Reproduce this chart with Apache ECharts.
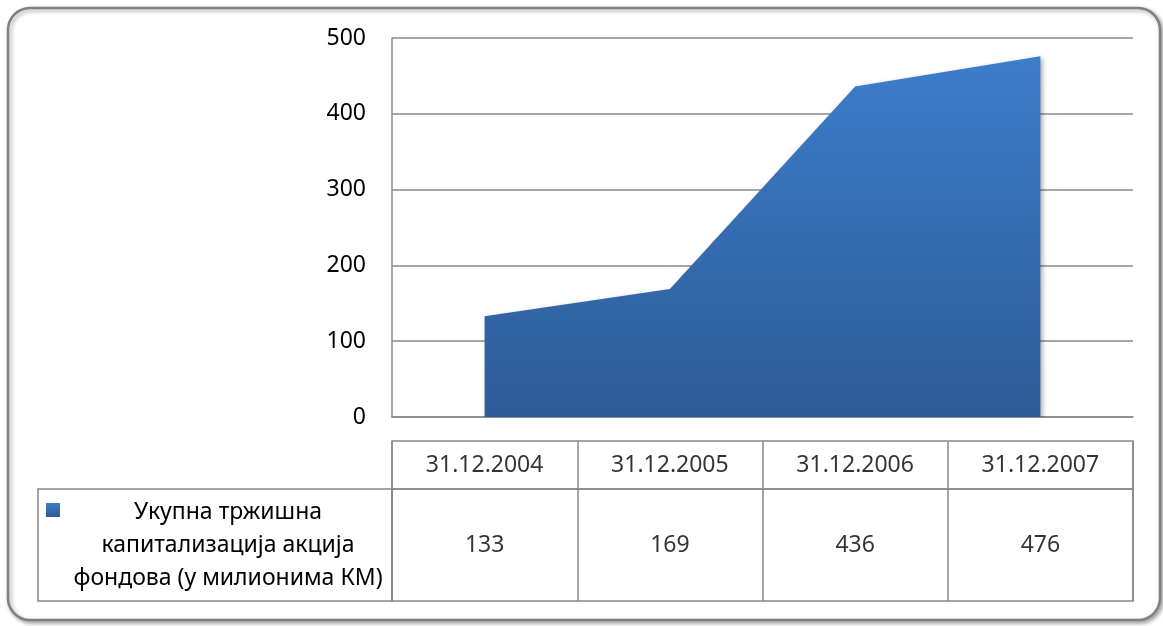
<!DOCTYPE html>
<html>
<head>
<meta charset="utf-8">
<script src="https://cdn.jsdelivr.net/npm/echarts@6/dist/echarts.min.js"></script>
<style>
  html, body { margin: 0; padding: 0; background: #fff; }
  #chart { width: 1163px; height: 626px; }
</style>
</head>
<body>
<div id="chart"></div>
<script>
// podaci
const categories = ['31.12.2004', '31.12.2005', '31.12.2006', '31.12.2007'];
const values = [133, 169, 436, 476];
const seriesName = 'Укупна тржишна\nкапитализација акција\nфондова (у милионима КМ)';
const yTicks = [0, 100, 200, 300, 400, 500];

const font = "'Noto Sans', 'Open Sans', sans-serif";
const gray = '#888888';
const fs = 23;

const chart = echarts.init(document.getElementById('chart'), null, { renderer: 'canvas' });

const areaColor = new echarts.graphic.LinearGradient(0, 0, 0, 1, [
  { offset: 0, color: '#3c7dcb' },
  { offset: 1, color: '#2d5b97' }
]);

const option = {
  animation: false,
  backgroundColor: '#fff',
  grid: [
    // glavni grafikon
    { left: 392, width: 741, top: 38, height: 379 },
    // red zaglavlja tabele
    { left: 392, width: 741, top: 441, height: 48, show: true, borderColor: gray, borderWidth: 1.5 },
    // red s vrijednostima
    { left: 392, width: 741, top: 489, height: 112, show: true, borderColor: gray, borderWidth: 1.5 }
  ],
  xAxis: [
    {
      gridIndex: 0, type: 'category', data: categories, boundaryGap: true,
      axisLine: { show: true, lineStyle: { color: gray, width: 1.5 } },
      axisTick: { show: false }, axisLabel: { show: false }
    },
    {
      gridIndex: 1, type: 'category', data: categories, boundaryGap: true,
      axisLine: { show: false }, axisTick: { show: false }, axisLabel: { show: false },
      splitLine: { show: true, lineStyle: { color: gray, width: 1.5 } }
    },
    {
      gridIndex: 2, type: 'category', data: categories, boundaryGap: true,
      axisLine: { show: false }, axisTick: { show: false }, axisLabel: { show: false },
      splitLine: { show: true, lineStyle: { color: gray, width: 1.5 } }
    }
  ],
  yAxis: [
    {
      gridIndex: 0, type: 'value', min: yTicks[0], max: yTicks[yTicks.length - 1], interval: 100,
      axisLine: { show: true, lineStyle: { color: gray, width: 1.5 } },
      axisTick: { show: false },
      axisLabel: { color: '#000', fontSize: fs, fontFamily: font, margin: 26 },
      splitLine: { show: true, lineStyle: { color: gray, width: 1.5 } }
    },
    { gridIndex: 1, type: 'value', min: 0, max: 1, show: false },
    { gridIndex: 2, type: 'value', min: 0, max: 1, show: false }
  ],
  series: [
    {
      name: seriesName,
      type: 'line',
      xAxisIndex: 0, yAxisIndex: 0,
      data: values,
      symbol: 'none',
      lineStyle: { width: 0 },
      areaStyle: {
        color: areaColor, opacity: 1,
        shadowColor: 'rgba(0,0,0,0.35)', shadowBlur: 5, shadowOffsetX: 2, shadowOffsetY: 2
      }
    },
    {
      type: 'scatter', xAxisIndex: 1, yAxisIndex: 1, silent: true,
      data: categories.map(c => [c, 0.5]),
      symbolSize: 1, itemStyle: { color: 'rgba(0,0,0,0)' },
      label: {
        show: true, position: 'inside', color: '#000', fontSize: fs, fontFamily: font,
        formatter: p => p.value[0]
      }
    },
    {
      type: 'scatter', xAxisIndex: 2, yAxisIndex: 2, silent: true,
      data: categories.map((c, i) => [c, 0.5, values[i]]),
      symbolSize: 1, itemStyle: { color: 'rgba(0,0,0,0)' },
      label: {
        show: true, position: 'inside', color: '#000', fontSize: fs, fontFamily: font,
        formatter: p => String(p.value[2])
      }
    }
  ],
  graphic: [
    // okvir
    {
      type: 'rect', z: -10,
      shape: { x: 8, y: 8, width: 1152, height: 612, r: 22 },
      style: { fill: '#fff', stroke: '#808080', lineWidth: 2.5,
        shadowColor: 'rgba(0,0,0,0.35)', shadowBlur: 4, shadowOffsetX: 2, shadowOffsetY: 2 }
    },
    // lijeva ćelija tabele
    {
      type: 'rect',
      shape: { x: 38, y: 489, width: 354, height: 112 },
      style: { fill: 'none', stroke: gray, lineWidth: 1.5 }
    },
    // legenda - kvadrat
    {
      type: 'rect',
      shape: { x: 46, y: 503, width: 14, height: 14 },
      style: { fill: new echarts.graphic.LinearGradient(0, 0, 0, 1, [
        { offset: 0, color: '#3c7dcb' }, { offset: 1, color: '#2d5b97' }
      ]) }
    },
    {
      type: 'text', x: 228, y: 545,
      style: {
        text: seriesName, fill: '#000', font: fs + 'px ' + font,
        textAlign: 'center', textVerticalAlign: 'middle', lineHeight: 33
      }
    }
  ]
};

chart.setOption(option);
</script>
</body>
</html>
